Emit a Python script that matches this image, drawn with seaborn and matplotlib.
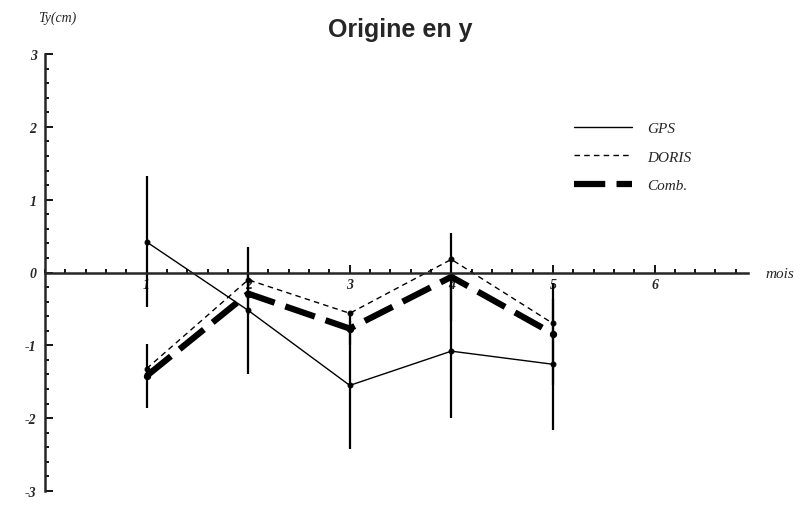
import numpy as np
import pandas as pd
import matplotlib
matplotlib.use("Agg")
import matplotlib.pyplot as plt
from matplotlib.ticker import MultipleLocator
import seaborn as sns

# donnees
mois = [1, 2, 3, 4, 5]
gps = [0.42, -0.52, -1.55, -1.08, -1.26]
gps_err = [0.90, 0.87, 0.88, 0.92, 0.90]
doris = [-1.32, -0.10, -0.56, 0.18, -0.70]
comb = [-1.42, -0.29, -0.77, -0.06, -0.84]
comb_err = [0.44, 0.30, 0.22, 0.60, 0.70]

sns.set_style("white")
plt.rcParams["font.family"] = ["Liberation Serif", "DejaVu Serif"]
plt.rcParams["axes.unicode_minus"] = False

fig = plt.figure(figsize=(8.08, 5.06), dpi=100)
ax = fig.add_axes([45 / 808, 14 / 506, (748 - 45) / 808, (492 - 55) / 506])

df = pd.DataFrame({"mois": mois, "GPS": gps, "DORIS": doris, "Comb": comb})

# barres d'erreur
ax.vlines(mois, np.array(gps) - gps_err, np.array(gps) + gps_err, color="black", lw=1.6, zorder=2)
ax.vlines(mois, np.array(comb) - comb_err, np.array(comb) + comb_err, color="black", lw=1.6, zorder=2)

sns.lineplot(data=df, x="mois", y="GPS", ax=ax, color="black", lw=1.0,
             marker="o", markersize=3.5, mec="black", label="GPS")
sns.lineplot(data=df, x="mois", y="DORIS", ax=ax, color="black", lw=1.0,
             marker="o", markersize=3.5, mec="black", label="DORIS")
sns.lineplot(data=df, x="mois", y="Comb", ax=ax, color="black", lw=4.5,
             marker="o", markersize=4.5, mec="black", label="Comb.")
lines = ax.get_lines()
lines[-2].set_linestyle((0, (4, 3)))
lines[-1].set_linestyle((0, (5, 1.8)))

ax.set_xlim(0, 6.92)
ax.set_ylim(-3, 3)
ax.spines["bottom"].set_position(("data", 0))
ax.spines["left"].set_position(("data", 0))
ax.spines["top"].set_visible(False)
ax.spines["right"].set_visible(False)
for s in ["bottom", "left"]:
    ax.spines[s].set_linewidth(1.8)

ax.set_xticks([1, 2, 3, 4, 5, 6])
ax.set_yticks([-3, -2, -1, 0, 1, 2, 3])
ax.xaxis.set_minor_locator(MultipleLocator(0.2))
ax.yaxis.set_minor_locator(MultipleLocator(0.2))
ax.tick_params(which="both", direction="in", color="black", width=1.3,
               bottom=True, left=True, top=False, right=False)
ax.tick_params(which="major", length=6, labelsize=10)
ax.tick_params(which="minor", length=3)
ax.tick_params(axis="x", pad=4)
ax.tick_params(axis="y", pad=6)
for t in ax.get_xticklabels() + ax.get_yticklabels():
    t.set_style("italic")
    t.set_fontweight("bold")
ax.set_xlabel("")
ax.set_ylabel("")

fig.text(38 / 808, 1 - 18 / 506, "Ty(cm)", style="italic", fontsize=10, va="center")
fig.text(765 / 808, 1 - 274 / 506, "mois", style="italic", fontsize=11, va="center")
fig.text(400 / 808, 1 - 30 / 506, "Origine en y", family=["Liberation Sans", "DejaVu Sans"],
         fontweight="bold", fontsize=18, ha="center", va="center")

leg = ax.legend(loc="upper left", bbox_to_anchor=((560 - 45) / 703, (492 - 109) / 437),
                frameon=False, handlelength=3.8, fontsize=11, labelspacing=0.95,
                handletextpad=1.0)
for t in leg.get_texts():
    t.set_style("italic")
for h in leg.get_lines():
    h.set_marker("")

fig.savefig("out.png", dpi=100)
